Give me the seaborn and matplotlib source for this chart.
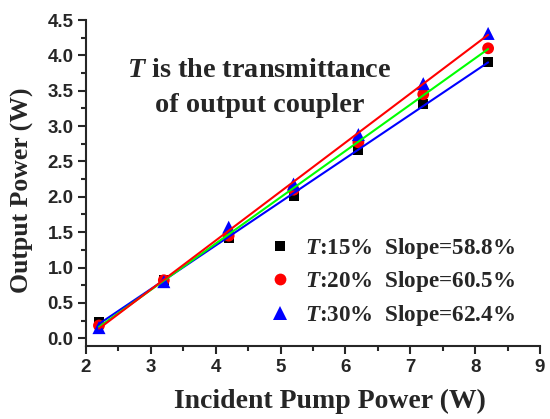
import matplotlib
matplotlib.use("Agg")
import matplotlib.pyplot as plt
from matplotlib.lines import Line2D
from matplotlib.ticker import MultipleLocator, FormatStrFormatter
import numpy as np
import pandas as pd
import seaborn as sns

# ---- data ----
pump_power = [2.2, 3.2, 4.2, 5.2, 6.2, 7.2, 8.2]
out_t15 = [0.23, 0.82, 1.42, 2.01, 2.66, 3.31, 3.91]
out_t20 = [0.18, 0.82, 1.45, 2.10, 2.77, 3.45, 4.10]
out_t30 = [0.15, 0.80, 1.57, 2.18, 2.88, 3.60, 4.31]
series_names = ["T15", "T20", "T30"]
legend_labels = ["$T$:15%  Slope=58.8%", "$T$:20%  Slope=60.5%", "$T$:30%  Slope=62.4%"]
annotation_lines = ["$T$ is the transmittance", "of output coupler"]
x_label = "Incident Pump Power (W)"
y_label = "Output Power (W)"

sns.set_style("ticks")
plt.rcParams["mathtext.fontset"] = "custom"
plt.rcParams["mathtext.rm"] = "Liberation Serif:bold"
plt.rcParams["mathtext.it"] = "Liberation Serif:italic:bold"
plt.rcParams["mathtext.bf"] = "Liberation Serif:bold"

df = pd.DataFrame({
    "x": pump_power * 3,
    "y": out_t15 + out_t20 + out_t30,
    "series": [s for s in series_names for _ in pump_power],
})

marker_style = {"T15": ("s", "black", 52), "T20": ("o", "red", 72), "T30": ("^", "blue", 88)}
# fit-line colours as drawn in the original figure
line_color = {"T15": "blue", "T20": "#00FF00", "T30": "red"}

fig = plt.figure(figsize=(5.5, 4.19), dpi=100)
ax = fig.add_axes([86 / 550, 1 - 346 / 419, (540 - 86) / 550, (346 - 20) / 419])

for s in series_names:
    sub = df[df["series"] == s]
    m, c, size = marker_style[s]
    sns.scatterplot(data=sub, x="x", y="y", marker=m, color=c, s=size,
                    edgecolor="none", ax=ax, zorder=2, legend=False)
for s in series_names:
    sub = df[df["series"] == s]
    sns.regplot(data=sub, x="x", y="y", scatter=False, ci=None, ax=ax,
                line_kws={"color": line_color[s], "lw": 1.5, "zorder": 3})

ax.set_xlim(2, 9)
ax.set_ylim(-0.11, 4.5)
ax.xaxis.set_major_locator(MultipleLocator(1))
ax.xaxis.set_minor_locator(MultipleLocator(0.5))
ax.yaxis.set_major_locator(MultipleLocator(0.5))
ax.yaxis.set_minor_locator(MultipleLocator(0.25))
ax.yaxis.set_major_formatter(FormatStrFormatter("%.1f"))
ax.xaxis.set_major_formatter(FormatStrFormatter("%d"))

sns.despine(ax=ax)
for sp in ["left", "bottom"]:
    ax.spines[sp].set_linewidth(1.5)
ax.tick_params(which="major", direction="out", length=6, width=1.5, pad=3)
ax.tick_params(which="minor", direction="out", length=3.5, width=1.5)
for lab in ax.get_xticklabels() + ax.get_yticklabels():
    lab.set_fontfamily("Liberation Sans")
    lab.set_fontweight("bold")
    lab.set_fontsize(13.5)

ax.set_xlabel(x_label, fontfamily="Liberation Serif", fontweight="bold", fontsize=20)
ax.set_ylabel(y_label, fontfamily="Liberation Serif", fontweight="bold", fontsize=18.5)
ax.xaxis.set_label_coords(0.537, -0.13)
ax.yaxis.set_label_coords(-0.115, 0.479)

fig.text(259.5 / 550, 1 - 77 / 419, annotation_lines[0], ha="center", va="baseline",
         fontfamily="Liberation Serif", fontweight="bold", fontsize=20.3)
fig.text(260 / 550, 1 - 112 / 419, annotation_lines[1], ha="center", va="baseline",
         fontfamily="Liberation Serif", fontweight="bold", fontsize=20.3)

handles = []
for s in series_names:
    m, c, size = marker_style[s]
    handles.append(Line2D([], [], linestyle="none", marker=m, color=c,
                          markersize=np.sqrt(size), markeredgewidth=0))
leg = ax.legend(handles, legend_labels, loc="center left",
                bbox_to_anchor=(268 / 550, 1 - 282 / 419), bbox_transform=fig.transFigure,
                frameon=False, handlelength=1.0, handletextpad=0.6, labelspacing=0.35,
                borderpad=0, borderaxespad=0,
                prop={"family": "Liberation Serif", "weight": "bold", "size": 16.7})

fig.savefig("out.png", dpi=100)
